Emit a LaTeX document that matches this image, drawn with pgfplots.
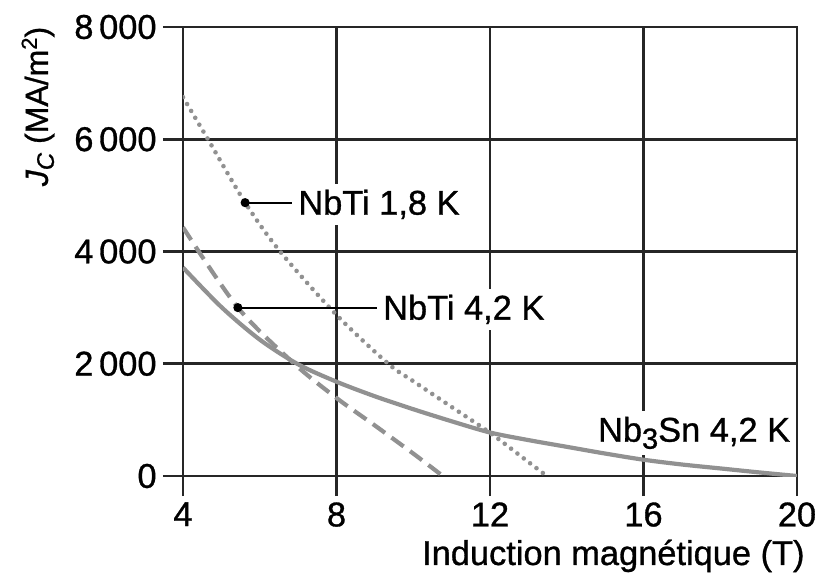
\documentclass[border=0pt]{standalone}
\usepackage{fontspec}
\setmainfont{Liberation Sans}[FakeBold=0.9]
\usepackage{pgfplots}
\pgfplotsset{compat=1.18}

\definecolor{curve}{gray}{0.57}
\definecolor{gridcol}{gray}{0.15}
\newcommand\lbl{\fontsize{17.2}{20}\selectfont}

\begin{document}
\begin{tikzpicture}
\path[use as bounding box] (-91.5pt,-51.5pt) rectangle (319pt,238pt);
\begin{axis}[
  at={(0,0)}, anchor=south west,
  scale only axis, width=307pt, height=224.5pt,
  xmin=4, xmax=20, ymin=0, ymax=8000,
  xtick={4,8,12,16,20}, ytick={0,2000,4000,6000,8000},
  xticklabels={4,8,12,16,20},
  yticklabels={0,2\,000,4\,000,6\,000,8\,000},
  /pgf/number format/assume math mode=true,
  tick pos=left, tick align=outside, major tick length=10pt,
  grid=major,
  major grid style={gridcol, line width=1.3pt},
  axis line style={gridcol, line width=1.3pt},
  tick style={gridcol, line width=1.3pt},
  ticklabel style={font=\lbl, inner sep=3pt},
]
% Nb3Sn label first, so that the curve is drawn over its white box
\node[anchor=base west, fill=white, inner sep=3pt, font=\lbl]
  at (axis cs:14.65,611) {Nb\raisebox{-3.5pt}{\fontsize{14.5}{16}\selectfont 3}Sn 4,2 K};

% NbTi 1,8 K
\addplot[curve, line width=2.3pt, line cap=round, dash pattern=on 0pt off 4pt, smooth]
  coordinates {(4,6750) (4.65,6000) (5.62,4870) (6.53,4000) (8,2870) (9.35,2000)
               (10,1690) (11,1230) (12,770) (13,250) (13.48,0)};
% NbTi 4,2 K
\addplot[curve, line width=2.1pt, dash pattern=on 7.5pt off 4pt, smooth]
  coordinates {(4,4430) (5.43,3000) (6.9,2000) (8,1390) (9,900) (10,400) (10.77,0)};
% Nb3Sn 4,2 K
\addplot[curve, line width=2.1pt, smooth]
  coordinates {(4,3714) (5,3010) (6,2430) (7,1990) (8,1680) (9,1420) (10,1190)
               (11,975) (12,775) (13,640) (14,520) (15,400) (16,290) (17,205)
               (18,135) (19,65) (20,0)};

% leader lines
\addplot[black, line width=1pt, mark=*, mark size=1.75pt, mark indices={1},
  mark options={solid, fill=black}]
  coordinates {(5.62,4870) (6.84,4870)};
\addplot[black, line width=1pt, mark=*, mark size=1.75pt, mark indices={1},
  mark options={solid, fill=black}]
  coordinates {(5.43,3000) (9.05,3000)};
\node[anchor=base west, fill=white, inner sep=3pt, font=\lbl, yshift=-6pt]
  at (axis cs:6.84,4870) {NbTi 1,8 K};
\node[anchor=base west, fill=white, inner sep=3pt, font=\lbl, yshift=-6pt]
  at (axis cs:9.05,3000) {NbTi 4,2 K};
\end{axis}

\node[rotate=90, inner sep=0pt, font=\fontsize{16}{18}\selectfont]
  at (-72.5pt,184.75pt)
  {{\itshape J}\raisebox{-3pt}{\fontsize{12}{13}\selectfont\itshape C} (MA/m\raisebox{5.5pt}{\fontsize{11}{12}\selectfont 2})};
\node[anchor=base east, inner sep=0pt, font=\lbl] at (311pt,-44.5pt)
  {Induction magnétique (T)};
\end{tikzpicture}
\end{document}
